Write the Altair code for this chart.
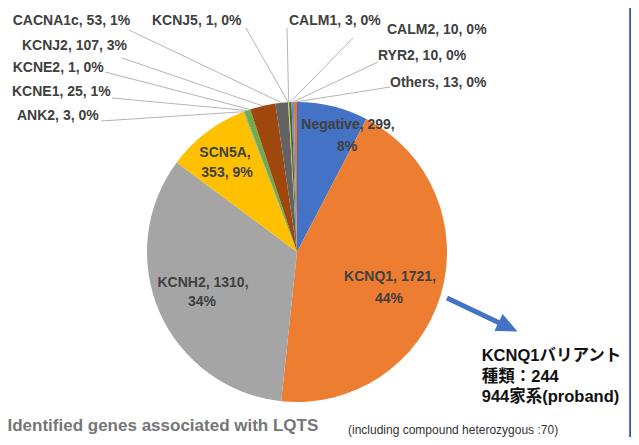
import altair as alt
import pandas as pd
import numpy as np

# ---- data ----
genes = ["Negative", "KCNQ1", "KCNH2", "SCN5A", "ANK2", "KCNE1", "KCNE2",
         "KCNJ2", "CACNA1c", "KCNJ5", "CALM1", "CALM2", "RYR2", "Others"]
counts = [299, 1721, 1310, 353, 3, 25, 1, 107, 53, 1, 3, 10, 10, 13]
colors = ["#4472C4", "#ED7D31", "#A5A5A5", "#FFC000", "#5B9BD5", "#70AD47", "#264478",
          "#9E480E", "#636363", "#C9C9C9", "#FFC000", "#43682B", "#698ED0", "#E8742A"]

# inside labels (big slices) and callout labels (small slices)
inner_genes = ["Negative", "KCNQ1", "KCNH2", "SCN5A"]
callout_genes = ["ANK2", "KCNE1", "KCNE2", "KCNJ2", "CACNA1c", "KCNJ5",
                 "CALM1", "CALM2", "RYR2", "Others"]

note_lines = ["KCNQ1バリアント", "種類：244", "944家系(proband)"]
title_text = "Identified genes associated with LQTS"
foot_text = "(including compound heterozygous :70)"

# ---- layout (pixels, chart coordinates) ----
W, H = 623, 429
CX, CY, R = 289, 244, 150
inner_pos = {  # (x, y line1, y line2)
    "Negative": (340, 116.5, 139),
    "KCNQ1": (382, 269, 291),
    "KCNH2": (195, 275, 294),
    "SCN5A": (217, 145, 165),
}
callout_pos = {  # text left x, text y, leader anchor x, anchor y
    "CACNA1c": (4.7, 13, 121, 22),
    "KCNJ5": (144, 13, 238, 20),
    "CALM1": (281, 13, 279, 20),
    "CALM2": (379, 22, 345, 30),
    "RYR2": (370, 48, 370, 54),
    "Others": (382, 75, 382, 79),
    "KCNJ2": (14, 37.5, 114, 50),
    "KCNE2": (4.7, 60, 97, 64),
    "KCNE1": (4, 83.5, 104, 90),
    "ANK2": (9, 108, 93, 113),
}

total = sum(counts)
df = pd.DataFrame({"gene": genes, "count": counts, "idx": range(len(genes))})
df["pct"] = (df["count"] / total * 100).round().astype(int)
df["cum"] = df["count"].cumsum() - df["count"] / 2
df["mid"] = df["cum"] / total * 2 * np.pi
df["label"] = df["gene"] + ", " + df["count"].astype(str) + ", " + df["pct"].astype(str) + "%"

pie = alt.Chart(df).mark_arc(outerRadius=R).encode(
    theta=alt.Theta("count:Q", stack=True),
    color=alt.Color("gene:N", scale=alt.Scale(domain=genes, range=colors), legend=None),
    order=alt.Order("idx:Q"),
    x=alt.value(CX), y=alt.value(CY),
)

# inner labels
rows = []
for g in inner_genes:
    r = df[df.gene == g].iloc[0]
    x, y1, y2 = inner_pos[g]
    if g == "SCN5A":
        rows.append({"t": f"{g},", "x": x, "y": y1})
        rows.append({"t": f"{r['count']}, {r['pct']}%", "x": x + 2, "y": y2})
    else:
        rows.append({"t": f"{g}, {r['count']},", "x": x, "y": y1})
        rows.append({"t": f"{r['pct']}%", "x": x - 1, "y": y2})
inner_df = pd.DataFrame(rows)
inner = alt.Chart(inner_df).mark_text(
    font="Liberation Sans", fontSize=14, fontWeight="bold", color="#404040", baseline="middle"
).encode(x=alt.X("x:Q", scale=None), y=alt.Y("y:Q", scale=None), text="t:N")

# callouts
crow = []
for g in callout_genes:
    r = df[df.gene == g].iloc[0]
    tx, ty, ax, ay = callout_pos[g]
    crow.append({"t": r["label"], "tx": tx, "ty": ty, "ax": ax, "ay": ay,
                 "px": CX + R * np.sin(r["mid"]), "py": CY - R * np.cos(r["mid"])})
cdf = pd.DataFrame(crow)
leaders = alt.Chart(cdf).mark_rule(color="#B4B4B4", strokeWidth=1).encode(
    x=alt.X("ax:Q", scale=None), y=alt.Y("ay:Q", scale=None),
    x2="px:Q", y2="py:Q")
ctext = alt.Chart(cdf).mark_text(
    font="Liberation Sans", fontSize=14, fontWeight="bold", color="#404040",
    align="left", baseline="middle"
).encode(x=alt.X("tx:Q", scale=None), y=alt.Y("ty:Q", scale=None), text="t:N")

# arrow
arrow_df = pd.DataFrame({"x": [439], "y": [290], "x2": [500], "y2": [319]})
shaft = alt.Chart(arrow_df).mark_rule(color="#4472C4", strokeWidth=5).encode(
    x=alt.X("x:Q", scale=None), y=alt.Y("y:Q", scale=None), x2="x2:Q", y2="y2:Q")
head = alt.Chart(arrow_df).mark_point(
    shape="M -1 -0.9 L 1 0 L -1 0.9 Z", filled=True, color="#4472C4", opacity=1,
    size=441, angle=25.6
).encode(x=alt.X("x2:Q", scale=None), y=alt.Y("y2:Q", scale=None))

note_df = pd.DataFrame({"t": note_lines, "x": [473.7] * 3, "y": [348.3, 368.6, 388.9]})
note = alt.Chart(note_df).mark_text(
    font="Liberation Sans, Noto Sans CJK JP", fontSize=16.5, fontWeight="bold",
    color="#111111", align="left", baseline="middle"
).encode(x=alt.X("x:Q", scale=None), y=alt.Y("y:Q", scale=None), text="t:N")

misc_df = pd.DataFrame({"t": [title_text], "x": [-0.5], "y": [418]})
title = alt.Chart(misc_df).mark_text(
    font="Liberation Sans", fontSize=17, fontWeight="bold", color="#767676",
    align="left", baseline="middle"
).encode(x=alt.X("x:Q", scale=None), y=alt.Y("y:Q", scale=None), text="t:N")

foot_df = pd.DataFrame({"t": [foot_text], "x": [340], "y": [428.5]})
foot = alt.Chart(foot_df).mark_text(
    font="Liberation Sans", fontSize=12, color="#333333", align="left", baseline="bottom"
).encode(x=alt.X("x:Q", scale=None), y=alt.Y("y:Q", scale=None), text="t:N")

border = alt.Chart(foot_df).mark_rule(color="#2F5597", strokeWidth=2.5).encode(
    x=alt.value(622.5), y=alt.value(0), y2=alt.value(H))

chart = alt.layer(pie, leaders, inner, ctext, shaft, head, note, title, foot, border).properties(
    width=W, height=H, padding=0, autosize=alt.AutoSizeParams(type="none")
).configure_view(stroke=None)

chart.save("out.html", embed_options={"renderer": "svg", "actions": False})
